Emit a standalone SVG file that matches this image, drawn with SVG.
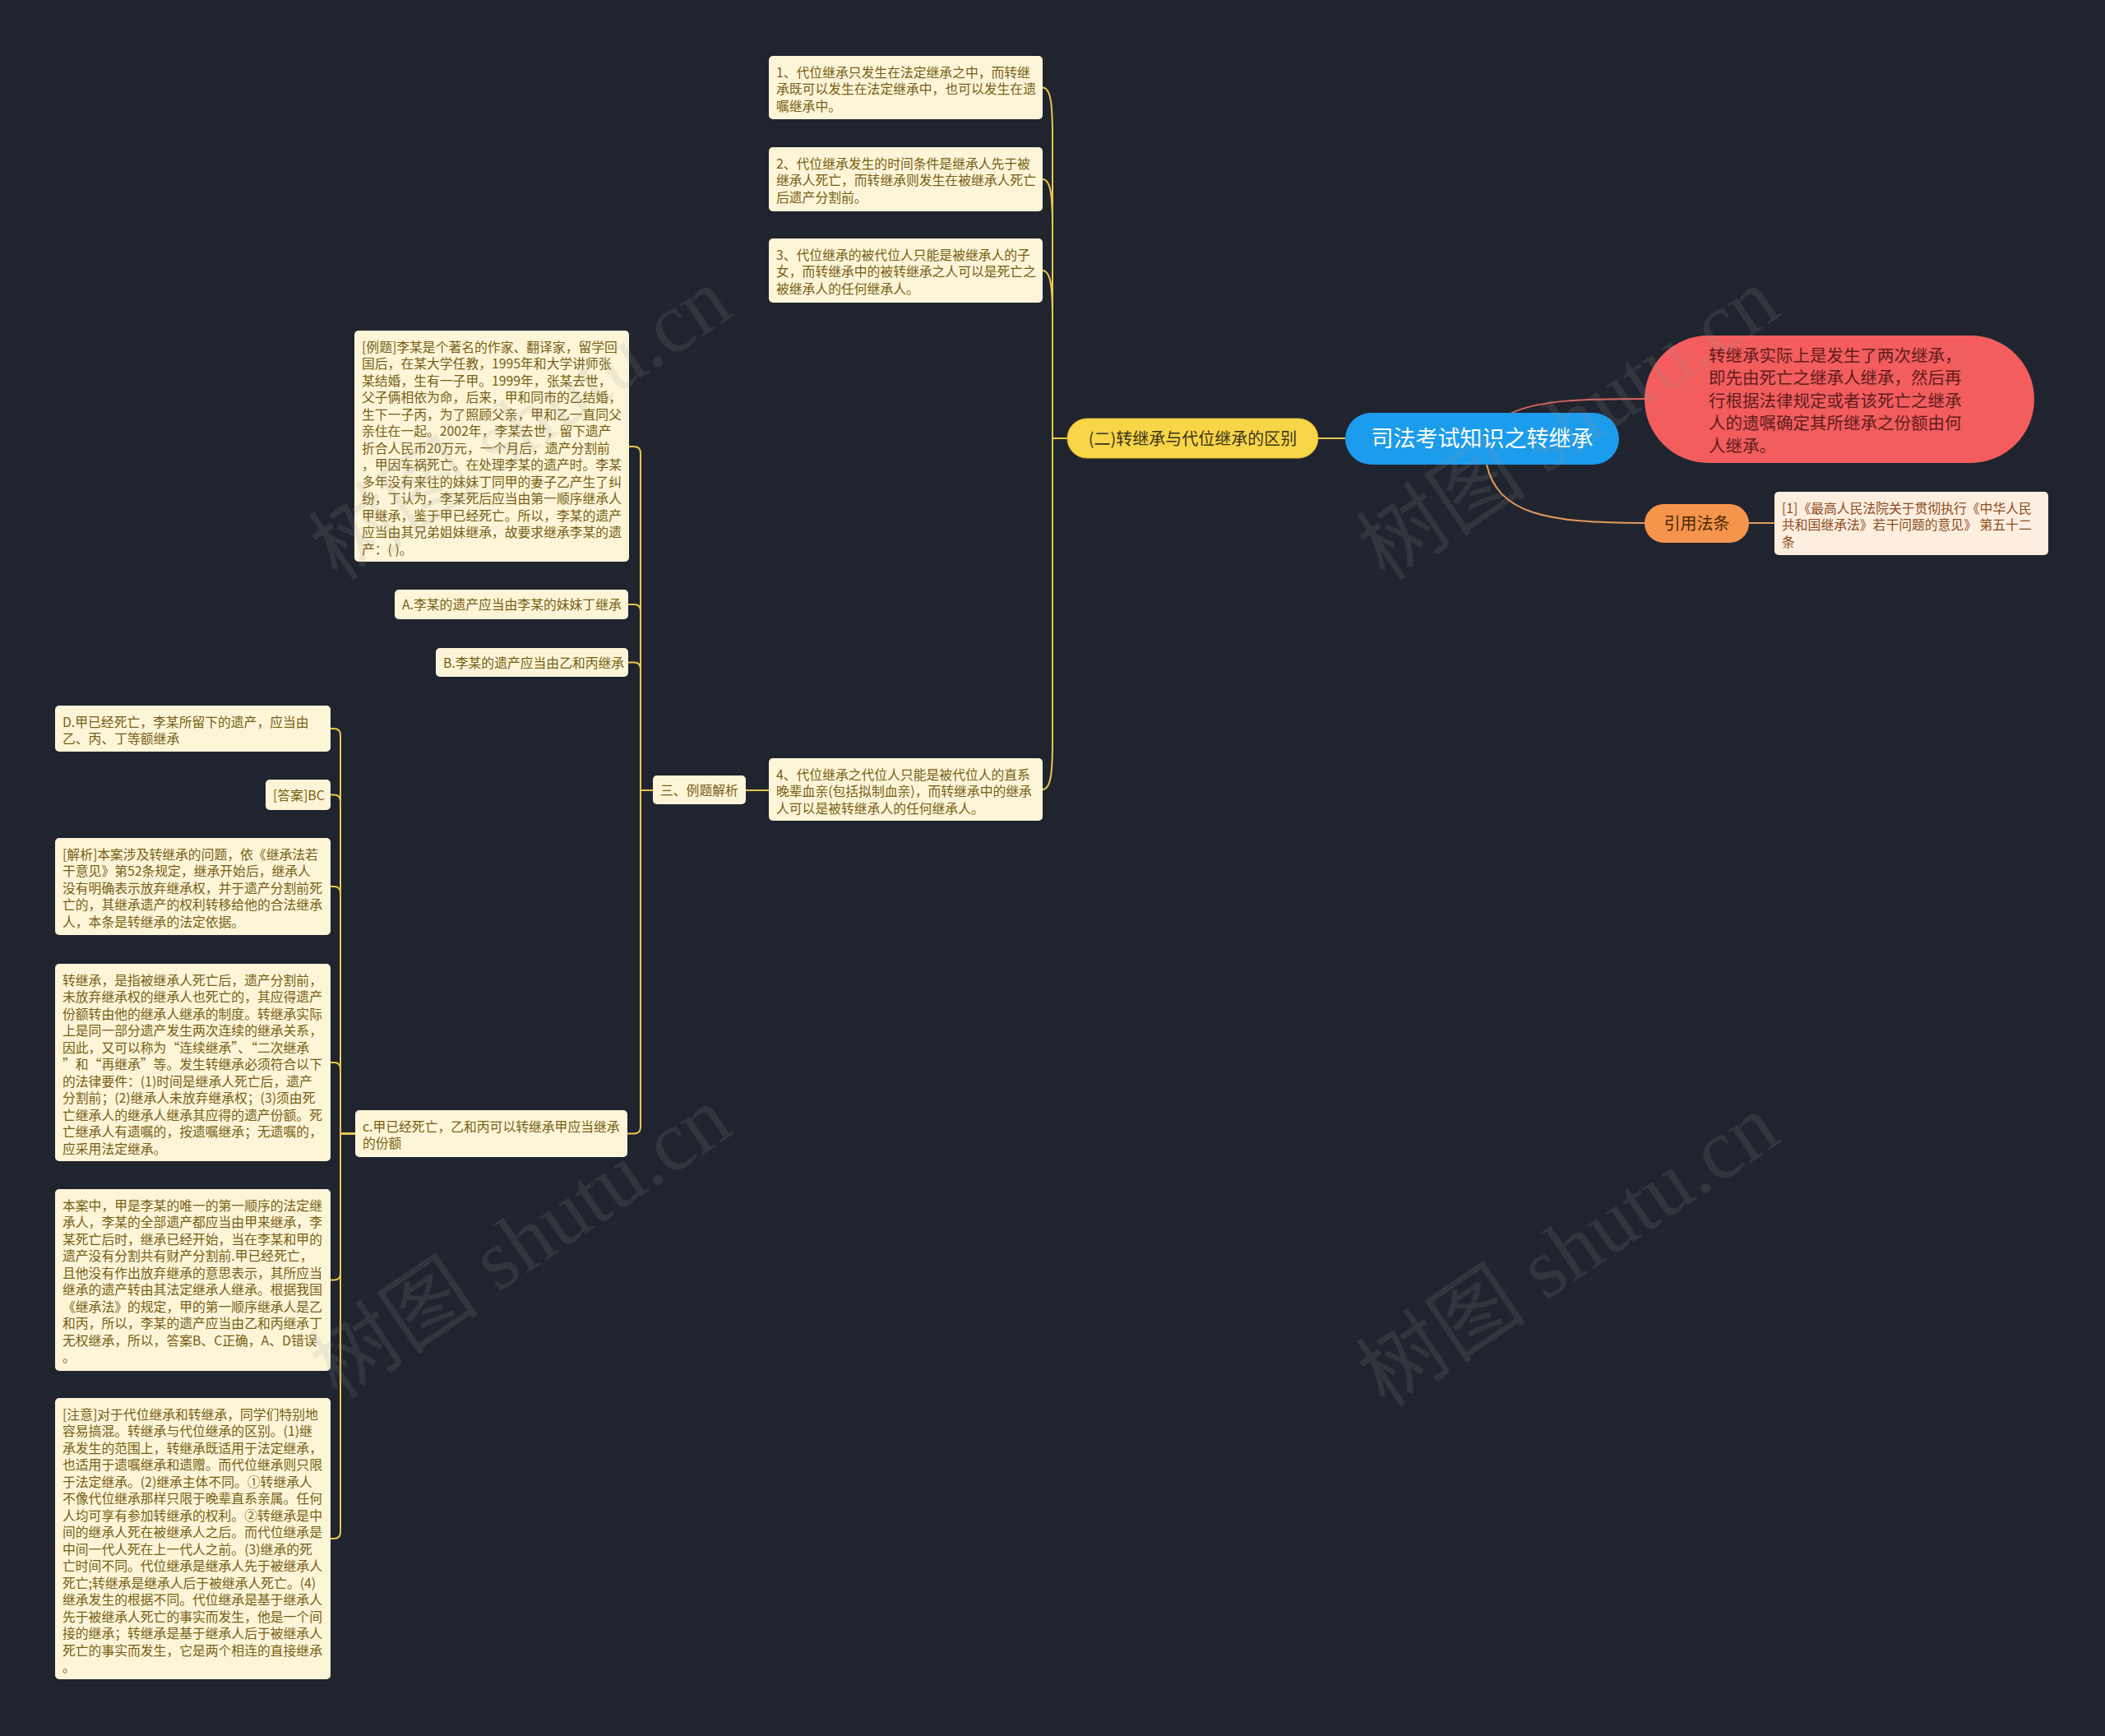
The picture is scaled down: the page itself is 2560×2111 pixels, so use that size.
<svg xmlns="http://www.w3.org/2000/svg" width="2560" height="2111" viewBox="0 0 2560 2111">
<style>
.bg{fill:#20242f}
.c rect{fill:#fdf5d8}
.c text{font-family:"Noto Sans CJK SC","Noto Sans",sans-serif;font-size:15.8px;fill:#776014}
.ly{fill:none;stroke:#e8c84a;stroke-width:2}
.lr{fill:none;stroke:#d9645f;stroke-width:2}
.lo{fill:none;stroke:#e39a5c;stroke-width:2}
.f{font-family:"Noto Sans CJK SC","Noto Sans",sans-serif}
.wm{font-family:"Liberation Serif","Noto Sans CJK SC",serif;font-size:104px;fill:#9a9a9a;opacity:0.14}
</style>
<rect class="bg" x="0" y="0" width="2560" height="2111"/>

<g id="connectors">
<path class="ly" d="M1603 533 H1636"/>
<path class="ly" d="M1298 533 H1280 L1280 167 C1280 127 1278 106.5 1268 106.5"/>
<path class="ly" d="M1298 533 H1280 L1280 278 C1280 238 1278 218 1268 218"/>
<path class="ly" d="M1298 533 H1280 L1280 389 C1280 349 1278 329 1268 329"/>
<path class="ly" d="M1298 533 H1280 L1280 900 C1280 940 1278 960 1268 960"/>
<path class="ly" d="M907 961 H935"/>
<path class="ly" d="M794 961 H779 V551 Q779 543 771 543 H765"/>
<path class="ly" d="M794 961 H779 V743 Q779 735 771 735 H764"/>
<path class="ly" d="M794 961 H779 V813.5 Q779 805.5 771 805.5 H764"/>
<path class="ly" d="M794 961 H779 V1370.5 Q779 1378.5 771 1378.5 H763"/>
<path class="ly" d="M432 1378.5 H414 V894 Q414 886 406 886 H402"/>
<path class="ly" d="M432 1378.5 H414 V974.5 Q414 966.5 406 966.5 H402"/>
<path class="ly" d="M432 1378.5 H414 V1086 Q414 1078 406 1078 H402"/>
<path class="ly" d="M432 1378.5 H414 V1300 Q414 1292 406 1292 H402"/>
<path class="ly" d="M432 1378.5 H414 V1548.5 Q414 1556.5 406 1556.5 H402"/>
<path class="ly" d="M432 1378.5 H414 V1863 Q414 1871 406 1871 H402"/>
<path class="lr" d="M1837 503 C1870 486 1930 485 2000 485"/>
<path class="lo" d="M1808 565 C1822 625 1880 636 2000 636"/>
<path class="lo" d="M2127 636 H2158"/>
</g>

<g id="root">
<rect x="1636" y="502" width="333" height="63" rx="31.5" fill="#1c9cec"/>
<text class="f" x="1802.5" y="543" text-anchor="middle" font-size="27" fill="#ffffff">司法考试知识之转继承</text>
</g>

<g id="node-er">
<rect x="1298" y="509" width="305" height="48" rx="24" fill="#f9d548" stroke="#e2b934" stroke-width="1"/>
<text class="f" x="1450.5" y="540.5" text-anchor="middle" font-size="20" fill="#3a3418">(二)转继承与代位继承的区别</text>
</g>

<g id="node-summary">
<rect x="2000" y="408" width="474" height="155" rx="77.5" fill="#f35d5d"/>
<text class="f" font-size="20.5" fill="#5e1c1c">
<tspan x="2078" y="439.5">转继承实际上是发生了两次继承，</tspan>
<tspan x="2078" y="467">即先由死亡之继承人继承，然后再</tspan>
<tspan x="2078" y="494.5">行根据法律规定或者该死亡之继承</tspan>
<tspan x="2078" y="522">人的遗嘱确定其所继承之份额由何</tspan>
<tspan x="2078" y="549.5">人继承。</tspan>
</text>
</g>

<g id="node-cite">
<rect x="2000" y="613" width="127" height="47" rx="23.5" fill="#f6944c"/>
<text class="f" x="2063.5" y="643.5" text-anchor="middle" font-size="20" fill="#4a2708">引用法条</text>
</g>

<g id="node-law">
<rect x="2158" y="598" width="333" height="77" rx="5" fill="#fdeee0"/>
<text class="f" font-size="15.8" fill="#8d4c1b">
<tspan x="2167" y="623.5">[1]《最高人民法院关于贯彻执行《中华人民</tspan>
<tspan x="2167" y="644">共和国继承法》若干问题的意见》 第五十二</tspan>
<tspan x="2167" y="664.5">条</tspan>
</text>
</g>

<g id="node-1" class="c">
<rect x="935" y="68" width="333" height="77" rx="5"/>
<text><tspan x="944" y="93.5">1、代位继承只发生在法定继承之中，而转继</tspan><tspan x="944" y="114">承既可以发生在法定继承中，也可以发生在遗</tspan><tspan x="944" y="134.5">嘱继承中。</tspan></text>
</g>

<g id="node-2" class="c">
<rect x="935" y="179" width="333" height="78" rx="5"/>
<text><tspan x="944" y="204.5">2、代位继承发生的时间条件是继承人先于被</tspan><tspan x="944" y="225">继承人死亡，而转继承则发生在被继承人死亡</tspan><tspan x="944" y="245.5">后遗产分割前。</tspan></text>
</g>

<g id="node-3" class="c">
<rect x="935" y="290" width="333" height="78" rx="5"/>
<text><tspan x="944" y="315.5">3、代位继承的被代位人只能是被继承人的子</tspan><tspan x="944" y="336">女，而转继承中的被转继承之人可以是死亡之</tspan><tspan x="944" y="356.5">被继承人的任何继承人。</tspan></text>
</g>

<g id="node-4" class="c">
<rect x="935" y="922" width="333" height="76" rx="5"/>
<text><tspan x="944" y="947.5">4、代位继承之代位人只能是被代位人的直系</tspan><tspan x="944" y="968">晚辈血亲(包括拟制血亲)，而转继承中的继承</tspan><tspan x="944" y="988.5">人可以是被转继承人的任何继承人。</tspan></text>
</g>

<g id="node-san" class="c">
<rect x="794" y="943" width="113" height="35" rx="5"/>
<text x="803" y="966.5">三、例题解析</text>
</g>

<g id="node-example" class="c">
<rect x="431" y="402" width="334" height="281" rx="5"/>
<text>
<tspan x="440" y="427.5">[例题]李某是个著名的作家、翻译家，留学回</tspan>
<tspan x="440" y="448">国后，在某大学任教，1995年和大学讲师张</tspan>
<tspan x="440" y="468.5">某结婚，生有一子甲。1999年，张某去世，</tspan>
<tspan x="440" y="489">父子俩相依为命，后来，甲和同市的乙结婚，</tspan>
<tspan x="440" y="509.5">生下一子丙，为了照顾父亲，甲和乙一直同父</tspan>
<tspan x="440" y="530">亲住在一起。2002年，李某去世，留下遗产</tspan>
<tspan x="440" y="550.5">折合人民币20万元，一个月后，遗产分割前</tspan>
<tspan x="440" y="571">，甲因车祸死亡。在处理李某的遗产时。李某</tspan>
<tspan x="440" y="591.5">多年没有来往的妹妹丁同甲的妻子乙产生了纠</tspan>
<tspan x="440" y="612">纷，丁认为，李某死后应当由第一顺序继承人</tspan>
<tspan x="440" y="632.5">甲继承，鉴于甲已经死亡。所以，李某的遗产</tspan>
<tspan x="440" y="653">应当由其兄弟姐妹继承，故要求继承李某的遗</tspan>
<tspan x="440" y="673.5">产：( )。</tspan>
</text>
</g>

<g id="node-a" class="c">
<rect x="480" y="717" width="284" height="36" rx="5"/>
<text x="489" y="741">A.李某的遗产应当由李某的妹妹丁继承</text>
</g>

<g id="node-b" class="c">
<rect x="530" y="788" width="234" height="35" rx="5"/>
<text x="539" y="811.5">B.李某的遗产应当由乙和丙继承</text>
</g>

<g id="node-c" class="c">
<rect x="432" y="1350" width="331" height="57" rx="5"/>
<text><tspan x="441" y="1375.5">c.甲已经死亡，乙和丙可以转继承甲应当继承</tspan><tspan x="441" y="1396">的份额</tspan></text>
</g>

<g id="node-d" class="c">
<rect x="67" y="858" width="335" height="56" rx="5"/>
<text><tspan x="76" y="883.5">D.甲已经死亡，李某所留下的遗产，应当由</tspan><tspan x="76" y="904">乙、丙、丁等额继承</tspan></text>
</g>

<g id="node-answer" class="c">
<rect x="323" y="948" width="79" height="37" rx="5"/>
<text x="332" y="972.5">[答案]BC</text>
</g>

<g id="node-analysis" class="c">
<rect x="67" y="1019" width="335" height="118" rx="5"/>
<text>
<tspan x="76" y="1044.5">[解析]本案涉及转继承的问题，依《继承法若</tspan>
<tspan x="76" y="1065">干意见》第52条规定，继承开始后，继承人</tspan>
<tspan x="76" y="1085.5">没有明确表示放弃继承权，并于遗产分割前死</tspan>
<tspan x="76" y="1106">亡的，其继承遗产的权利转移给他的合法继承</tspan>
<tspan x="76" y="1126.5">人，本条是转继承的法定依据。</tspan>
</text>
</g>

<g id="node-def" class="c">
<rect x="67" y="1172" width="335" height="240" rx="5"/>
<text>
<tspan x="76" y="1197.5">转继承，是指被继承人死亡后，遗产分割前，</tspan>
<tspan x="76" y="1218">未放弃继承权的继承人也死亡的，其应得遗产</tspan>
<tspan x="76" y="1238.5">份额转由他的继承人继承的制度。转继承实际</tspan>
<tspan x="76" y="1259">上是同一部分遗产发生两次连续的继承关系，</tspan>
<tspan x="76" y="1279.5">因此，又可以称为“连续继承”、“二次继承</tspan>
<tspan x="76" y="1300">”和“再继承”等。发生转继承必须符合以下</tspan>
<tspan x="76" y="1320.5">的法律要件：(1)时间是继承人死亡后，遗产</tspan>
<tspan x="76" y="1341">分割前；(2)继承人未放弃继承权；(3)须由死</tspan>
<tspan x="76" y="1361.5">亡继承人的继承人继承其应得的遗产份额。死</tspan>
<tspan x="76" y="1382">亡继承人有遗嘱的，按遗嘱继承；无遗嘱的，</tspan>
<tspan x="76" y="1402.5">应采用法定继承。</tspan>
</text>
</g>

<g id="node-case" class="c">
<rect x="67" y="1446" width="335" height="221" rx="5"/>
<text>
<tspan x="76" y="1471.5">本案中，甲是李某的唯一的第一顺序的法定继</tspan>
<tspan x="76" y="1492">承人，李某的全部遗产都应当由甲来继承，李</tspan>
<tspan x="76" y="1512.5">某死亡后时，继承已经开始，当在李某和甲的</tspan>
<tspan x="76" y="1533">遗产没有分割共有财产分割前.甲已经死亡，</tspan>
<tspan x="76" y="1553.5">且他没有作出放弃继承的意思表示，其所应当</tspan>
<tspan x="76" y="1574">继承的遗产转由其法定继承人继承。根据我国</tspan>
<tspan x="76" y="1594.5">《继承法》的规定，甲的第一顺序继承人是乙</tspan>
<tspan x="76" y="1615">和丙，所以，李某的遗产应当由乙和丙继承丁</tspan>
<tspan x="76" y="1635.5">无权继承，所以，答案B、C正确，A、D错误</tspan>
<tspan x="76" y="1656">。</tspan>
</text>
</g>

<g id="node-note" class="c">
<rect x="67" y="1700" width="335" height="342" rx="5"/>
<text>
<tspan x="76" y="1725.5">[注意]对于代位继承和转继承，同学们特别地</tspan>
<tspan x="76" y="1746">容易搞混。转继承与代位继承的区别。(1)继</tspan>
<tspan x="76" y="1766.5">承发生的范围上，转继承既适用于法定继承，</tspan>
<tspan x="76" y="1787">也适用于遗嘱继承和遗赠。而代位继承则只限</tspan>
<tspan x="76" y="1807.5">于法定继承。(2)继承主体不同。①转继承人</tspan>
<tspan x="76" y="1828">不像代位继承那样只限于晚辈直系亲属。任何</tspan>
<tspan x="76" y="1848.5">人均可享有参加转继承的权利。②转继承是中</tspan>
<tspan x="76" y="1869">间的继承人死在被继承人之后。而代位继承是</tspan>
<tspan x="76" y="1889.5">中间一代人死在上一代人之前。(3)继承的死</tspan>
<tspan x="76" y="1910">亡时间不同。代位继承是继承人先于被继承人</tspan>
<tspan x="76" y="1930.5">死亡;转继承是继承人后于被继承人死亡。(4)</tspan>
<tspan x="76" y="1951">继承发生的根据不同。代位继承是基于继承人</tspan>
<tspan x="76" y="1971.5">先于被继承人死亡的事实而发生，他是一个间</tspan>
<tspan x="76" y="1992">接的继承；转继承是基于继承人后于被继承人</tspan>
<tspan x="76" y="2012.5">死亡的事实而发生，它是两个相连的直接继承</tspan>
<tspan x="76" y="2033">。</tspan>
</text>
</g>

<g id="watermarks">
<text class="wm" text-anchor="middle" transform="translate(653 545) rotate(-34)">树图 shutu.cn</text>
<text class="wm" text-anchor="middle" transform="translate(1927 545) rotate(-34)">树图 shutu.cn</text>
<text class="wm" text-anchor="middle" transform="translate(653 1540) rotate(-34)">树图 shutu.cn</text>
<text class="wm" text-anchor="middle" transform="translate(1927 1550) rotate(-34)">树图 shutu.cn</text>
</g>
</svg>
